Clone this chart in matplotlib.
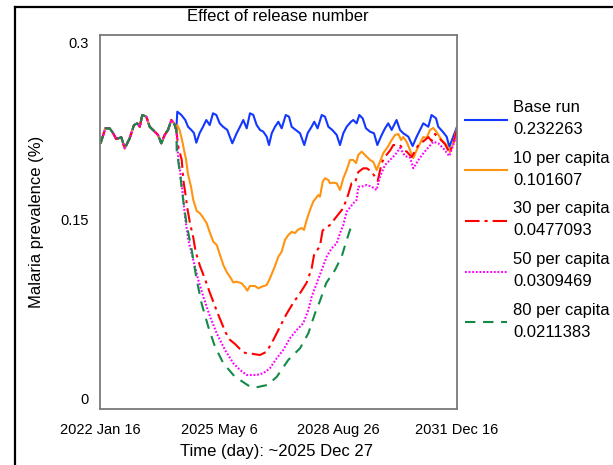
import matplotlib
matplotlib.use("Agg")
import matplotlib.pyplot as plt
from matplotlib.lines import Line2D
from matplotlib import transforms as mtrans

plt.rcParams['font.family'] = ['Liberation Sans', 'DejaVu Sans']
plt.rcParams['lines.scale_dashes'] = False

# ---------------- data (time in days since 2022 Jan 16, prevalence) ----------------
shared_t = [0, 7, 54, 98, 132, 165, 216, 251, 301, 345, 378, 403, 429, 470, 504,
            555, 588, 622, 656, 690, 723, 751, 774]
shared_v = [0.2186, 0.2162, 0.2281, 0.2281, 0.2243, 0.2194, 0.2208, 0.2118, 0.2200,
            0.2308, 0.2322, 0.2294, 0.2390, 0.2376, 0.2294, 0.2254, 0.2227, 0.2159,
            0.2227, 0.2268, 0.2349, 0.2322, 0.2268]

base_t = [784, 825, 865, 893, 926, 953, 977, 1011, 1045, 1078, 1113, 1146, 1180, 1214,
          1248, 1291, 1342, 1386, 1420, 1453, 1488, 1521, 1555, 1589, 1623, 1656, 1691,
          1714, 1742, 1775, 1809, 1843, 1884, 1917, 1944, 1985, 2029, 2072, 2106, 2146,
          2173, 2207, 2249, 2282, 2316, 2356, 2401, 2434, 2468, 2502, 2546, 2569, 2603,
          2630, 2664, 2698, 2739, 2779, 2813, 2857, 2891, 2924, 2958, 3008, 3043, 3076,
          3127, 3171, 3212, 3246, 3279, 3330, 3363, 3408, 3431, 3476, 3516, 3543, 3583, 3621]
base_v = [0.2417, 0.2390, 0.2349, 0.2294, 0.2268, 0.2243, 0.2164, 0.2243, 0.2294, 0.2349,
          0.2308, 0.2404, 0.2390, 0.2322, 0.2294, 0.2268, 0.2159, 0.2241, 0.2294, 0.2349,
          0.2281, 0.2404, 0.2390, 0.2308, 0.2268, 0.2254, 0.2213, 0.2145, 0.2241, 0.2294,
          0.2335, 0.2281, 0.2390, 0.2376, 0.2294, 0.2268, 0.2241, 0.2145, 0.2241, 0.2294,
          0.2335, 0.2281, 0.2390, 0.2376, 0.2294, 0.2268, 0.2227, 0.2145, 0.2241, 0.2294,
          0.2335, 0.2349, 0.2322, 0.2390, 0.2363, 0.2281, 0.2254, 0.2241, 0.2145, 0.2227,
          0.2281, 0.2322, 0.2268, 0.2349, 0.2268, 0.2241, 0.2213, 0.2137, 0.2213, 0.2268,
          0.2322, 0.2294, 0.2390, 0.2363, 0.2294, 0.2254, 0.2213, 0.2131, 0.2213, 0.2294]

r10_t = [784, 807, 832, 859, 874, 891, 923, 946, 981, 1014, 1048, 1082, 1116, 1149, 1184,
         1217, 1251, 1285, 1319, 1352, 1386, 1436, 1471, 1494, 1521, 1572, 1606, 1640,
         1691, 1724, 1775, 1809, 1843, 1876, 1910, 1944, 1978, 2011, 2046, 2069, 2096,
         2130, 2163, 2214, 2231, 2259, 2282, 2316, 2333, 2366, 2401, 2434, 2468, 2502,
         2536, 2569, 2597, 2620, 2654, 2705, 2739, 2772, 2806, 2840, 2874, 2918, 2958,
         2992, 3026, 3053, 3076, 3111, 3144, 3178, 3212, 3246, 3279, 3313, 3347, 3381,
         3414, 3465, 3516, 3550, 3584, 3621]
r10_v = [0.2308, 0.2268, 0.2186, 0.2077, 0.2023, 0.1914, 0.1805, 0.1697, 0.1607, 0.1588,
         0.1550, 0.1507, 0.1427, 0.1356, 0.1330, 0.1248, 0.1166, 0.1109, 0.1069, 0.1024,
         0.1030, 0.1017, 0.0985, 0.0957, 0.0995, 0.0995, 0.0976, 0.0989, 0.1003, 0.1058,
         0.1158, 0.1234, 0.1275, 0.1370, 0.1411, 0.1436, 0.1427, 0.1456, 0.1468, 0.1452,
         0.1533, 0.1615, 0.1683, 0.1737, 0.1723, 0.1846, 0.1874, 0.1860, 0.1833, 0.1838,
         0.1833, 0.1778, 0.1874, 0.1941, 0.2023, 0.2023, 0.1998, 0.2064, 0.2091, 0.2050,
         0.2023, 0.2007, 0.1941, 0.2009, 0.2080, 0.2129, 0.2186, 0.2227, 0.2235, 0.2186,
         0.2210, 0.2170, 0.2104, 0.2039, 0.2104, 0.2159, 0.2210, 0.2202, 0.2268, 0.2284,
         0.2251, 0.2186, 0.2145, 0.2088, 0.2162, 0.2284]

r30_t = [794, 829, 845, 868, 889, 913, 946, 970, 1014, 1065, 1116, 1166, 1217, 1275, 1319,
         1369, 1420, 1471, 1521, 1572, 1623, 1691, 1758, 1826, 1892, 1961, 2029, 2096,
         2147, 2171, 2231, 2258, 2292, 2333, 2404, 2460, 2502, 2552, 2586, 2620, 2670,
         2705, 2748, 2789, 2817, 2857, 2891, 2942, 2975, 3009, 3043, 3076, 3111, 3161,
         3195, 3229, 3297, 3330, 3364, 3398, 3449, 3499, 3543, 3583, 3621]
r30_v = [0.2131, 0.2023, 0.1860, 0.1737, 0.1615, 0.1507, 0.1391, 0.1275, 0.1158, 0.1052,
         0.0936, 0.0830, 0.0726, 0.0614, 0.0555, 0.0522, 0.0481, 0.0449, 0.0445, 0.0438,
         0.0432, 0.0459, 0.0555, 0.0663, 0.0767, 0.0859, 0.0936, 0.1022, 0.1139, 0.1248,
         0.1321, 0.1448, 0.1468, 0.1493, 0.1566, 0.1623, 0.1701, 0.1833, 0.1835, 0.1925,
         0.1955, 0.1955, 0.1933, 0.1887, 0.1852, 0.1998, 0.2050, 0.2100, 0.2145, 0.2145,
         0.2145, 0.2104, 0.2091, 0.2047, 0.2096, 0.2145, 0.2186, 0.2210, 0.2178, 0.2235,
         0.2194, 0.2153, 0.2084, 0.2159, 0.2268]

r50_t = [794, 811, 835, 862, 896, 946, 997, 1048, 1116, 1184, 1268, 1352, 1420, 1488, 1589,
         1656, 1724, 1792, 1859, 1927, 1995, 2062, 2113, 2147, 2198, 2249, 2299, 2350,
         2401, 2434, 2468, 2502, 2569, 2603, 2620, 2654, 2705, 2756, 2806, 2840, 2891,
         2942, 2992, 3043, 3093, 3144, 3178, 3229, 3279, 3330, 3381, 3431, 3482, 3543,
         3583, 3621]
r50_v = [0.2039, 0.1941, 0.1778, 0.1560, 0.1370, 0.1207, 0.1044, 0.0908, 0.0745, 0.0609,
         0.0473, 0.0365, 0.0310, 0.0269, 0.0269, 0.0283, 0.0324, 0.0405, 0.0473, 0.0569,
         0.0636, 0.0691, 0.0799, 0.0908, 0.1017, 0.1126, 0.1234, 0.1303, 0.1343, 0.1425,
         0.1493, 0.1601, 0.1670, 0.1697, 0.1805, 0.1805, 0.1819, 0.1805, 0.1778, 0.1887,
         0.1982, 0.2023, 0.2064, 0.2121, 0.2055, 0.2043, 0.1955, 0.2023, 0.2077, 0.2125,
         0.2172, 0.2159, 0.2118, 0.2055, 0.2145, 0.2235]

r80_t = [778, 811, 845, 878, 930, 981, 1032, 1098, 1166, 1251, 1352, 1420, 1521, 1603,
         1700, 1792, 1910, 2029, 2113, 2181, 2231, 2295, 2384, 2451, 2502, 2552]
r80_v = [0.2104, 0.1914, 0.1688, 0.1501, 0.1289, 0.1044, 0.0848, 0.0663, 0.0500, 0.0365,
         0.0269, 0.0228, 0.0174, 0.0171, 0.0188, 0.0253, 0.0392, 0.0487, 0.0609, 0.0772,
         0.0873, 0.1020, 0.1126, 0.1234, 0.1370, 0.1493]

series_names = ["Base run", "10 per capita", "30 per capita", "50 per capita", "80 per capita"]
cursor_values = ["0.232263", "0.101607", "0.0477093", "0.0309469", "0.0211383"]
series_t = [base_t, r10_t, r30_t, r50_t, r80_t]
series_v = [base_v, r10_v, r30_v, r50_v, r80_v]

x_ticks = [0, 1207, 2414, 3621]
x_tick_labels = ["2022 Jan 16", "2025 May 6", "2028 Aug 26", "2031 Dec 16"]
y_ticks = [0, 0.15, 0.3]
y_tick_labels = ["0", "0.15", "0.3"]

# ---------------- styling ----------------
colors = ["#1238ff", "#ff9410", "#ff0000", "#ff00ff", "#138a48"]
styles = ["-", "-", (0, (10.5, 3.6, 2.2, 3.6)), (0, (1.3, 1.3)), (0, (7.5, 5.5))]
lw = 1.5

W, H = 613, 465
fig = plt.figure(figsize=(W / 100, H / 100), dpi=100)
ax = fig.add_axes([100 / W, 1 - 409.3 / H, 357 / W, (409.3 - 34.7) / H])

for t, v, c, ls in zip(series_t, series_v, colors, styles):
    ax.plot(shared_t + t, shared_v + v, color=c, lw=lw, linestyle=ls,
            solid_joinstyle='round')

ax.set_xlim(0, 3621)
ax.set_ylim(-0.0011, 0.3045)
for s in ax.spines.values():
    s.set_color("#7a7a7a")
    s.set_linewidth(1.3)
ax.tick_params(length=0)
ax.set_xticks(x_ticks)
ax.set_xticklabels(x_tick_labels, fontsize=10.5)
ax.tick_params(axis='x', pad=10)
ax.set_yticks([])
# y tick labels (Vensim draws them nudged inward)
offsets_px = [8, 3, -4]
blend = mtrans.blended_transform_factory(ax.transAxes, ax.transData)
for val, lab, off in zip(y_ticks, y_tick_labels, offsets_px):
    tr = blend + mtrans.ScaledTranslation(-11 / 100, off / 100, fig.dpi_scale_trans)
    ax.text(0, val, lab, transform=tr, ha='right', va='center', fontsize=10.5)

fig.text(278 / W, 1 - 16.7 / H, "Effect of release number", ha='center', va='center', fontsize=12)
fig.text(277 / W, 1 - 451.7 / H, "Time (day): ~2025 Dec 27", ha='center', va='center', fontsize=12)
fig.text(37 / W, 1 - 222 / H, "Malaria prevalence (%)", ha='center', va='center',
         rotation=90, fontsize=12)

# legend (manual, Vensim style)
for i, (name, val, c, ls) in enumerate(zip(series_names, cursor_values, colors, styles)):
    yl = 119.5 + i * 50.7
    fig.add_artist(Line2D([465 / W, 507 / W], [1 - yl / H, 1 - yl / H], color=c, lw=lw,
                          linestyle=ls, transform=fig.transFigure))
    fig.text(513 / W, 1 - (yl - 12) / H, name, ha='left', va='center', fontsize=12)
    fig.text(513 / W, 1 - (yl + 10) / H, val, ha='left', va='center', fontsize=12)

# outer black frame
fig.add_artist(Line2D([15 / W, 1.0], [1 - 7 / H, 1 - 7 / H], color='black', lw=1.6,
                      transform=fig.transFigure))
fig.add_artist(Line2D([15 / W, 15 / W], [0, 1 - 7 / H], color='black', lw=1.6,
                      transform=fig.transFigure))

fig.savefig("out.png", dpi=100)
